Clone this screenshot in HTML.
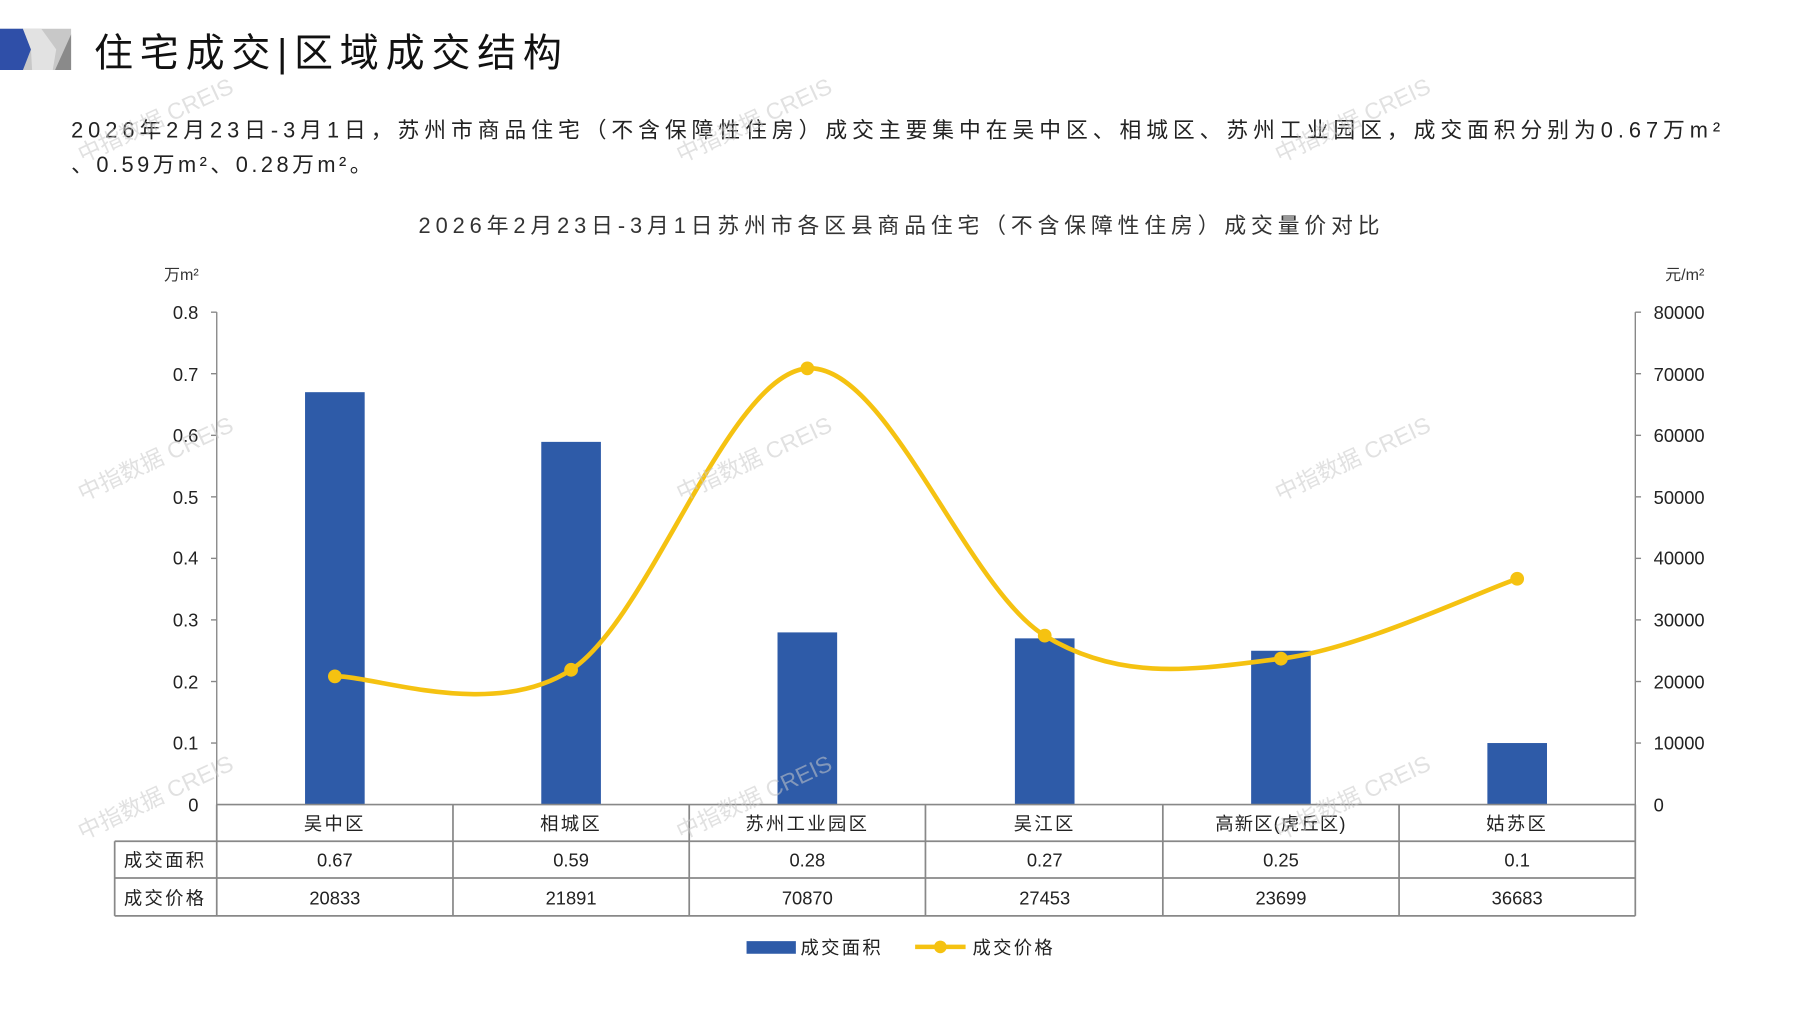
<!DOCTYPE html>
<html><head><meta charset="utf-8"><style>
html,body{margin:0;padding:0;background:#fff;}
svg{display:block;}
text{font-family:"Liberation Sans","Noto Sans CJK SC",sans-serif;}
</style></head><body>
<svg width="1797" height="1010" viewBox="0 0 1567 880" preserveAspectRatio="none" xmlns="http://www.w3.org/2000/svg">
<rect width="1567" height="880" fill="#fff"/>
<!-- logo -->
<polygon points="0,25 62,25 62,61 0,61" fill="#c8c8c8"/>
<polygon points="0,25 20,25 27,43 20,61 0,61" fill="#2f4fa8"/>
<polygon points="20,25 36,25 49,43 46,61 28,61 27,43" fill="#e2e2e2"/>
<polygon points="62,30 62,61 48,61" fill="#8a8a8a"/>
<text x="82" y="58" font-size="34" fill="#111" textLength="408" lengthAdjust="spacing">住宅成交|区域成交结构</text>
<text x="62" y="120" font-size="19" fill="#222" textLength="1438" lengthAdjust="spacing">2026年2月23日-3月1日，苏州市商品住宅（不含保障性住房）成交主要集中在吴中区、相城区、苏州工业园区，成交面积分别为0.67万m²</text>
<text x="62" y="150" font-size="19" fill="#222" textLength="262" lengthAdjust="spacing">、0.59万m²、0.28万m²。</text>
<text x="365" y="203" font-size="19" fill="#333" textLength="838" lengthAdjust="spacing">2026年2月23日-3月1日苏州市各区县商品住宅（不含保障性住房）成交量价对比</text>
<text x="143" y="244" font-size="14" fill="#333">万m²</text>
<text x="1452" y="244" font-size="14" fill="#333">元/m²</text>
<!-- axes -->
<g stroke="#888" stroke-width="1.2" fill="none">
<line x1="189" y1="272" x2="189" y2="701"/>
<line x1="1426" y1="272" x2="1426" y2="701"/>
<line x1="184" y1="272" x2="189" y2="272"/><line x1="184" y1="325.6" x2="189" y2="325.6"/><line x1="184" y1="379.3" x2="189" y2="379.3"/><line x1="184" y1="432.9" x2="189" y2="432.9"/><line x1="184" y1="486.5" x2="189" y2="486.5"/><line x1="184" y1="540.1" x2="189" y2="540.1"/><line x1="184" y1="593.8" x2="189" y2="593.8"/><line x1="184" y1="647.4" x2="189" y2="647.4"/>
<line x1="1426" y1="272" x2="1431" y2="272"/><line x1="1426" y1="325.6" x2="1431" y2="325.6"/><line x1="1426" y1="379.3" x2="1431" y2="379.3"/><line x1="1426" y1="432.9" x2="1431" y2="432.9"/><line x1="1426" y1="486.5" x2="1431" y2="486.5"/><line x1="1426" y1="540.1" x2="1431" y2="540.1"/><line x1="1426" y1="593.8" x2="1431" y2="593.8"/><line x1="1426" y1="647.4" x2="1431" y2="647.4"/>
</g>
<g font-size="16" fill="#222" text-anchor="end">
<text x="173" y="278">0.8</text><text x="173" y="332">0.7</text><text x="173" y="385">0.6</text><text x="173" y="439">0.5</text><text x="173" y="492">0.4</text><text x="173" y="546">0.3</text><text x="173" y="600">0.2</text><text x="173" y="653">0.1</text><text x="173" y="707">0</text>
</g>
<g font-size="16" fill="#222">
<text x="1442" y="278">80000</text><text x="1442" y="332">70000</text><text x="1442" y="385">60000</text><text x="1442" y="439">50000</text><text x="1442" y="492">40000</text><text x="1442" y="546">30000</text><text x="1442" y="600">20000</text><text x="1442" y="653">10000</text><text x="1442" y="707">0</text>
</g>
<!-- bars -->
<g fill="#2e5ba8">
<rect x="266" y="341.7" width="52" height="359.3"/>
<rect x="472" y="385" width="52" height="316"/>
<rect x="678" y="551" width="52" height="150"/>
<rect x="885" y="556.2" width="52" height="144.8"/>
<rect x="1091" y="567" width="52" height="134"/>
<rect x="1297" y="647.4" width="52" height="53.6"/>
</g>
<!-- line -->
<path d="M292,589.3 C326.3,588.4 429.3,628.3 498,583.6 C566.7,538.9 635.2,326 704,321 C772.8,316 842.2,511.6 911,553.8 C979.8,595.9 1048.3,582.2 1117,573.9 C1185.7,565.6 1288.7,515.9 1323,504.3" fill="none" stroke="#f5c211" stroke-width="4"/>
<g fill="#f5c211">
<circle cx="292" cy="589.3" r="6"/><circle cx="498" cy="583.6" r="6"/><circle cx="704" cy="321" r="6"/><circle cx="911" cy="553.8" r="6"/><circle cx="1117" cy="573.9" r="6"/><circle cx="1323" cy="504.3" r="6"/>
</g>
<!-- table -->
<g stroke="#888" stroke-width="1.5" fill="none">
<line x1="189" y1="701" x2="1426" y2="701"/>
<line x1="100" y1="733" x2="1426" y2="733"/>
<line x1="100" y1="765" x2="1426" y2="765"/>
<line x1="100" y1="798" x2="1426" y2="798"/>
<line x1="100" y1="733" x2="100" y2="798"/>
<line x1="189" y1="701" x2="189" y2="798"/>
<line x1="395" y1="701" x2="395" y2="798"/>
<line x1="601" y1="701" x2="601" y2="798"/>
<line x1="807" y1="701" x2="807" y2="798"/>
<line x1="1014" y1="701" x2="1014" y2="798"/>
<line x1="1220" y1="701" x2="1220" y2="798"/>
<line x1="1426" y1="701" x2="1426" y2="798"/>
</g>
<g font-size="16" fill="#222" text-anchor="middle">
<text x="292" y="723" letter-spacing="2">吴中区</text><text x="498" y="723" letter-spacing="2">相城区</text><text x="704" y="723" letter-spacing="2">苏州工业园区</text><text x="911" y="723" letter-spacing="2">吴江区</text><text x="1117" y="723" letter-spacing="1">高新区(虎丘区)</text><text x="1323" y="723" letter-spacing="2">姑苏区</text>
<text x="144" y="755" letter-spacing="2">成交面积</text><text x="144" y="788" letter-spacing="2">成交价格</text>
<text x="292" y="755">0.67</text><text x="498" y="755">0.59</text><text x="704" y="755">0.28</text><text x="911" y="755">0.27</text><text x="1117" y="755">0.25</text><text x="1323" y="755">0.1</text>
<text x="292" y="788">20833</text><text x="498" y="788">21891</text><text x="704" y="788">70870</text><text x="911" y="788">27453</text><text x="1117" y="788">23699</text><text x="1323" y="788">36683</text>
</g>
<!-- legend -->
<rect x="651" y="820" width="43" height="11" fill="#2e5ba8"/>
<text x="698" y="831" font-size="16" fill="#222" letter-spacing="2">成交面积</text>
<line x1="798" y1="825" x2="842" y2="825" stroke="#f5c211" stroke-width="4"/>
<circle cx="820" cy="825" r="5.5" fill="#f5c211"/>
<text x="848" y="831" font-size="16" fill="#222" letter-spacing="2">成交价格</text>
<!-- watermarks -->
<g font-size="20" fill="#c8c8c8" fill-opacity="0.55">
<text transform="translate(72,142) rotate(-25)">中指数据 CREIS</text>
<text transform="translate(594,142) rotate(-25)">中指数据 CREIS</text>
<text transform="translate(1116,142) rotate(-25)">中指数据 CREIS</text>
<text transform="translate(72,437) rotate(-25)">中指数据 CREIS</text>
<text transform="translate(594,437) rotate(-25)">中指数据 CREIS</text>
<text transform="translate(1116,437) rotate(-25)">中指数据 CREIS</text>
<text transform="translate(72,732) rotate(-25)">中指数据 CREIS</text>
<text transform="translate(594,732) rotate(-25)">中指数据 CREIS</text>
<text transform="translate(1116,732) rotate(-25)">中指数据 CREIS</text>
</g>
</svg>
</body></html>
